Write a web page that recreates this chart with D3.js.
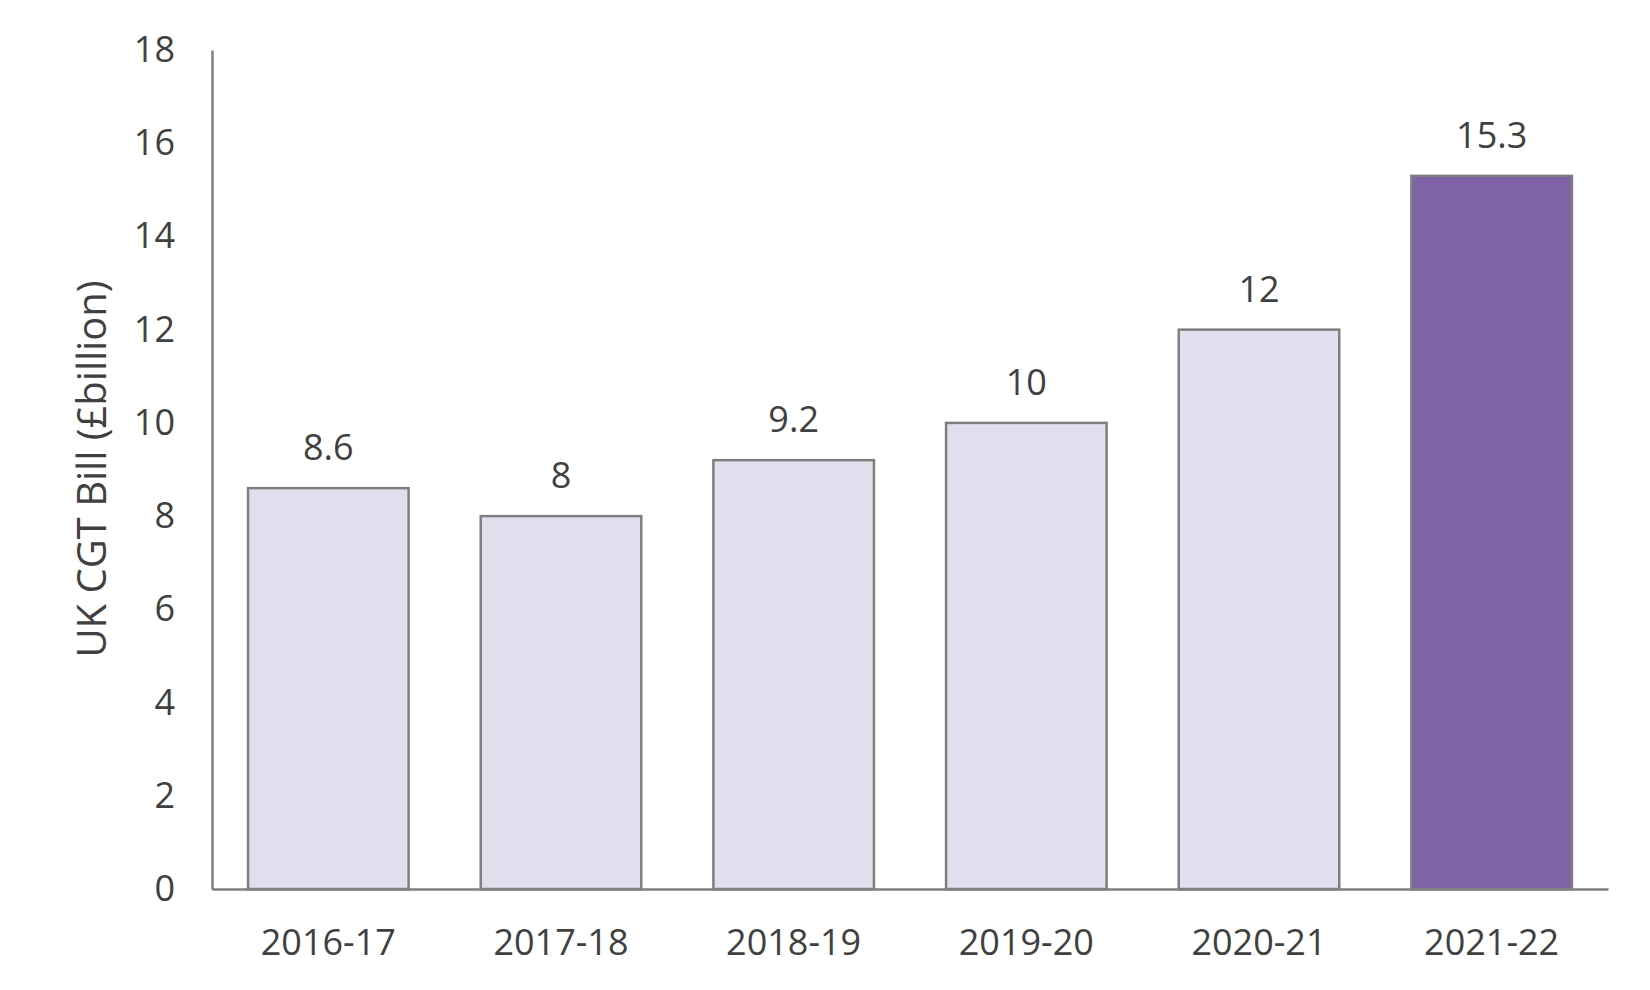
<!DOCTYPE html>
<html><head><meta charset="utf-8">
<script src="https://cdn.jsdelivr.net/npm/d3@7"></script>
<style>body{margin:0;background:#fff}text{font-family:"Open Sans",Lato,sans-serif;fill:#404040}</style>
</head><body><svg id="c" width="1650" height="990"></svg>
<script>
const categories=["2016-17","2017-18","2018-19","2019-20","2020-21","2021-22"];
const values=[8.6,8,9.2,10,12,15.3];
const highlight=[false,false,false,false,false,true];
const yTicks=[0,2,4,6,8,10,12,14,16,18];
const svg=d3.select("#c");
const x=d3.scaleBand().domain(categories).range([212,1608]).paddingInner(0.31).paddingOuter(0.155);
const y=d3.scaleLinear().domain([0,18]).range([889,50]);
svg.selectAll("rect.b").data(values).join("rect").attr("class","b")
 .attr("x",(d,i)=>x(categories[i])).attr("width",x.bandwidth())
 .attr("y",d=>y(d)).attr("height",d=>y(0)-y(d))
 .attr("fill",(d,i)=>highlight[i]?"#7f63a6":"#e1dfee").attr("stroke","#7f7f7f").attr("stroke-width",2.5);
svg.selectAll("text.v").data(values).join("text").attr("class","v")
 .attr("x",(d,i)=>x(categories[i])+x.bandwidth()/2).attr("y",d=>y(d)-28)
 .attr("text-anchor","middle").attr("font-size",36).text(d=>d);
svg.append("g").attr("transform","translate(0,889)").call(d3.axisBottom(x).tickSize(0).tickPadding(40))
 .call(g=>{g.select(".domain").attr("stroke","#7f7f7f").attr("stroke-width",2.5);g.selectAll("text").attr("font-size",36).attr("fill","#404040");});
svg.append("g").attr("transform","translate(212,0)").call(d3.axisLeft(y).tickValues(yTicks).tickSize(0).tickPadding(37))
 .call(g=>{g.select(".domain").attr("stroke","#7f7f7f").attr("stroke-width",2.5);g.selectAll("text").attr("font-size",36).attr("fill","#404040");});
svg.append("text").attr("transform","translate(106,469) rotate(-90)").attr("text-anchor","middle").attr("font-size",40).text("UK CGT Bill (£billion)");
</script></body></html>
